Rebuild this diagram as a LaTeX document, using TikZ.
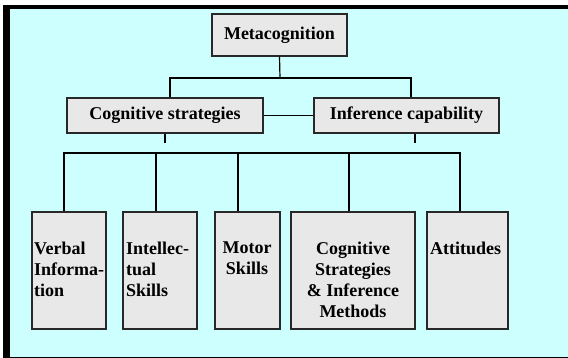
\documentclass[tikz,border=0pt]{standalone}
\usepackage{fontspec}
\setmainfont{Liberation Serif}
\definecolor{bgcyan}{RGB}{206,255,255}
\definecolor{boxgray}{RGB}{232,232,232}
\definecolor{edge}{RGB}{40,40,40}
\tikzset{
  hbox/.style={draw=edge, line width=1.3pt, fill=boxgray, inner sep=0pt,
    font=\bfseries\fontsize{18}{21}\selectfont},
  vbox/.style={draw=edge, line width=1.3pt, fill=boxgray, inner sep=0pt, minimum height=117pt},
  lbl/.style={inner sep=0pt, font=\bfseries\fontsize{18}{21}\selectfont},
  conn/.style={draw=black, line width=1.2pt},
}
\begin{document}
\begin{tikzpicture}[x=1pt,y=-1pt]
\useasboundingbox (0,0) rectangle (568,358);
\fill[white] (0,0) rectangle (568,358);
\fill[black] (3,5) rectangle (568,358);
\fill[bgcyan] (10,9) rectangle (568,356.5);
% top level
\node[hbox, minimum width=135pt, minimum height=42pt] (meta) at (279.5,35) {Metacognition};
\node[hbox, minimum width=196pt, minimum height=35pt] (cog) at (165,115.5) {Cognitive strategies};
\node[hbox, minimum width=185pt, minimum height=35pt] (inf) at (406.5,115.5) {Inference capability};
% bottom boxes
\node[vbox, minimum width=74pt] (vb) at (69,270.5) {};
\node[vbox, minimum width=74pt] (ib) at (160,270.5) {};
\node[vbox, minimum width=65pt] (mb) at (247.5,270.5) {};
\node[vbox, minimum width=124pt] (cb) at (353,270.5) {};
\node[vbox, minimum width=81pt] (ab) at (467.5,270.5) {};
% labels
\node[lbl, anchor=north west, align=left] (vt) at (34,242) {Verbal\\Informa-\\tion};
\node[lbl, anchor=north west, align=left] (it) at (126,242) {Intellec-\\tual\\Skills};
\node[lbl, anchor=north, align=center] (mt) at (247,242) {Motor\\Skills};
\node[lbl, anchor=north, align=center] (ct) at (353,242) {Cognitive\\Strategies\\\& Inference\\Methods};
\node[lbl, anchor=north west, align=left] (at) at (430,242) {Attitudes};
% connector points
\coordinate (j1) at (280,78);
\coordinate (s1) at (165,143);
\coordinate (s2) at (415,143);
\coordinate (bus) at (250,153);
% connectors
\draw[conn] (meta.south) -- (j1);
\draw[conn] ([xshift=5pt]cog.north) |- (j1) -| ([xshift=4.5pt]inf.north);
\draw[conn] (cog.east) -- (inf.west);
\draw[conn] (cog.south) -- (s1);
\draw[conn] ([xshift=8.5pt]inf.south) -- (s2);
\draw[conn] ([xshift=-5pt]vb.north) |- (bus) -| ([xshift=-7.5pt]ab.north);
\draw[conn] ([xshift=-4pt]ib.north) -- ([xshift=-4pt]ib.north |- bus);
\draw[conn] ([xshift=-9.5pt]mb.north) -- ([xshift=-9.5pt]mb.north |- bus);
\draw[conn] ([xshift=-4pt]cb.north) -- ([xshift=-4pt]cb.north |- bus);
\end{tikzpicture}
\end{document}
